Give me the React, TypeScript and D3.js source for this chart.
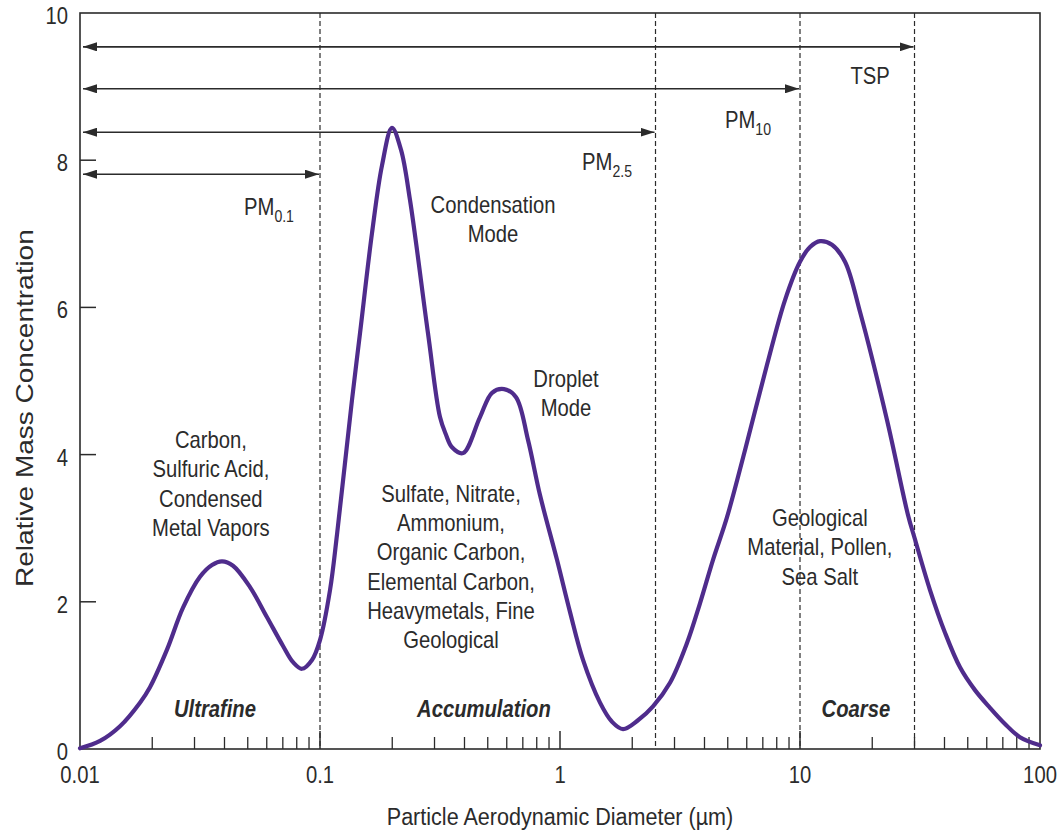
import React, { useEffect, useRef } from 'react';
import * as d3 from 'd3';

// particle diameter (µm) and relative mass concentration
const diameters = [
  0.01, 0.01212, 0.01468, 0.01778, 0.01957, 0.02304, 0.02687, 0.03162, 0.03548, 0.03906,
  0.04341, 0.05109, 0.06015, 0.07013, 0.0772, 0.08414, 0.09261, 0.1, 0.1101, 0.1177,
  0.1359, 0.1468, 0.1647, 0.1813, 0.1995, 0.2176, 0.2371, 0.2818, 0.3162, 0.335,
  0.3548, 0.3943, 0.4642, 0.521, 0.5845, 0.6558, 0.7356, 0.8254, 0.9716, 1.101,
  1.247, 1.468, 1.647, 1.83, 2.113, 2.441, 2.873, 3.382, 3.831, 4.341,
  4.965, 5.899, 7.287, 8.66, 10, 11.01, 12.12, 13.59, 15.4, 17.78,
  23.04, 28.18, 30, 34.81, 40.2, 46.42, 53.6, 61.9, 71.5, 82.5,
  100,
];
const concentrations = [
  0.01, 0.11, 0.31, 0.63, 0.84, 1.35, 1.92, 2.34, 2.5, 2.55,
  2.49, 2.2, 1.79, 1.4, 1.18, 1.09, 1.21, 1.48, 2.16, 2.91,
  4.74, 5.65, 7.01, 7.93, 8.44, 8.14, 7.46, 5.65, 4.51, 4.27,
  4.1, 4.02, 4.51, 4.84, 4.89, 4.78, 4.2, 3.45, 2.57, 1.86,
  1.21, 0.63, 0.37, 0.27, 0.39, 0.58, 0.9, 1.44, 1.98, 2.57,
  3.15, 4.06, 5.22, 6.1, 6.62, 6.82, 6.9, 6.85, 6.62, 5.94,
  4.47, 3.18, 2.87, 2.16, 1.58, 1.11, 0.8, 0.56, 0.34, 0.16,
  0.05,
];

// size fraction cut-offs (µm)
const cutNames = ['PM0.1', 'PM2.5', 'PM10', 'TSP'];
const cutSizes = [0.1, 2.5, 10, 30];
const cutArrowLevels = [7.81, 8.38, 8.97, 9.54];

const yTicks = [0, 2, 4, 6, 8, 10];
const xTickLabels = ['0.01', '0.1', '1', '10', '100'];

const W = 1061;
const H = 831;
const margin = { top: 13, right: 21, bottom: 82, left: 80 };
const FONT = '"Liberation Sans", Arial, Helvetica, sans-serif';
const INK = '#2b2b2b';
const CURVE = '#4f2c8c';
const SQ = 0.88; // the original figure's text is a bit narrow

const label = (
  parent: any,
  x: number,
  y: number,
  lines: string[],
  opts: { size: number; anchor?: string; bold?: boolean; italic?: boolean; lineH?: number },
) => {
  const t = parent.append('text')
    .attr('transform', `translate(${x},${y}) scale(${SQ},1)`)
    .attr('text-anchor', opts.anchor || 'middle')
    .attr('font-family', FONT)
    .attr('font-size', opts.size)
    .attr('fill', INK);
  if (opts.bold) t.attr('font-weight', 'bold');
  if (opts.italic) t.attr('font-style', 'italic');
  lines.forEach((l, i) => {
    t.append('tspan').attr('x', 0).attr('dy', i === 0 ? 0 : opts.lineH || 29.3).text(l);
  });
  return t;
};

const App: React.FC = () => {
  const svgRef = useRef<SVGSVGElement>(null);

  useEffect(() => {
    if (!svgRef.current) return;
    const svg = d3.select(svgRef.current);
    svg.selectAll('*').remove();

    const x = d3.scaleLog().domain([0.01, 100]).range([margin.left, W - margin.right]);
    const y = d3.scaleLinear().domain([0, 10]).range([H - margin.bottom, margin.top]);
    const x0 = margin.left, x1 = W - margin.right;
    const yb = H - margin.bottom, yt = margin.top;

    const defs = svg.append('defs');
    ['start', 'end'].forEach(k => {
      defs.append('marker')
        .attr('id', `arrow-${k}`)
        .attr('viewBox', '0 0 14 9')
        .attr('refX', 14).attr('refY', 4.5)
        .attr('markerWidth', 14).attr('markerHeight', 9)
        .attr('markerUnits', 'userSpaceOnUse')
        .attr('orient', k === 'start' ? 'auto-start-reverse' : 'auto')
        .append('path')
        .attr('d', 'M0,0 L14,4.5 L0,9 Z')
        .attr('fill', INK);
    });

    // frame
    svg.append('rect')
      .attr('x', x0).attr('y', yt)
      .attr('width', x1 - x0).attr('height', yb - yt)
      .attr('fill', 'none').attr('stroke', INK).attr('stroke-width', 1.6);

    // minor/major ticks on the log axis (pointing inward)
    const minor: number[] = [];
    for (let e = -2; e < 2; e++) {
      for (let m = 2; m <= 9; m++) minor.push(m * Math.pow(10, e));
    }
    svg.append('g').selectAll('line').data(minor).join('line')
      .attr('x1', d => x(d)).attr('x2', d => x(d))
      .attr('y1', yb).attr('y2', yb - 12)
      .attr('stroke', INK).attr('stroke-width', 1.3);
    svg.append('g').selectAll('line').data([0.1, 1, 10]).join('line')
      .attr('x1', d => x(d)).attr('x2', d => x(d))
      .attr('y1', yb).attr('y2', yb - 18)
      .attr('stroke', INK).attr('stroke-width', 1.5);

    const axisG = svg.append('g');
    xTickLabels.forEach(d => label(axisG, x(+d), yb + 34, [d], { size: 23 }));

    // y ticks
    svg.append('g').selectAll('line').data(yTicks.slice(1, -1)).join('line')
      .attr('x1', x0).attr('x2', x0 + 16)
      .attr('y1', d => y(d)).attr('y2', d => y(d))
      .attr('stroke', INK).attr('stroke-width', 1.5);
    yTicks.forEach(d => label(axisG, x0 - 12, y(d) + 11, [String(d)], { size: 23, anchor: 'end' }));

    // axis titles
    label(axisG, (x0 + x1) / 2, 825, ['Particle Aerodynamic Diameter (µm)'], { size: 24.5 });
    svg.append('text')
      .attr('transform', `translate(33,587) scale(${SQ},1) rotate(-90)`)
      .attr('text-anchor', 'start')
      .attr('font-family', FONT).attr('font-size', 28).attr('fill', INK)
      .text('Relative Mass Concentration');

    // dashed cut-off lines
    svg.append('g').selectAll('line').data(cutSizes).join('line')
      .attr('x1', d => x(d)).attr('x2', d => x(d))
      .attr('y1', yt).attr('y2', yb)
      .attr('stroke', INK).attr('stroke-width', 1.2)
      .attr('stroke-dasharray', '5,3');

    // size range arrows
    svg.append('g').selectAll('line').data(cutSizes).join('line')
      .attr('x1', x0 + 3).attr('x2', d => x(d) - 1)
      .attr('y1', (d, i) => y(cutArrowLevels[i]))
      .attr('y2', (d, i) => y(cutArrowLevels[i]))
      .attr('stroke', INK).attr('stroke-width', 1.6)
      .attr('marker-start', 'url(#arrow-start)')
      .attr('marker-end', 'url(#arrow-end)');

    // size range labels
    const cutLabelPos = [
      { x: 0.0613, y: 7.26 }, { x: 1.57, y: 7.87 }, { x: 6.07, y: 8.44 }, { x: 19.6, y: 9.04 },
    ];
    const cutG = svg.append('g');
    cutNames.forEach((name, i) => {
      const t = label(cutG, x(cutLabelPos[i].x), y(cutLabelPos[i].y), [], { size: 23 });
      if (name.startsWith('PM')) {
        t.append('tspan').text('PM');
        t.append('tspan').attr('dy', 7).attr('font-size', 16).text(name.slice(2));
      } else {
        t.text(name);
      }
    });

    // curve
    const pts = diameters.map((d, i) => [d, concentrations[i]] as [number, number]);
    const line = d3.line<[number, number]>()
      .x(d => x(d[0])).y(d => y(d[1]))
      .curve(d3.curveCatmullRom.alpha(0.5));
    svg.append('path')
      .attr('d', line(pts))
      .attr('fill', 'none').attr('stroke', CURVE)
      .attr('stroke-width', 4.2).attr('stroke-linejoin', 'round').attr('stroke-linecap', 'round');

    // annotations
    const notes = [
      { x: 0.0351, y: 4.09, lines: ['Carbon,', 'Sulfuric Acid,', 'Condensed', 'Metal Vapors'] },
      { x: 0.526, y: 7.28, lines: ['Condensation', 'Mode'] },
      { x: 1.059, y: 4.92, lines: ['Droplet', 'Mode'] },
      { x: 0.3515, y: 3.36, lines: ['Sulfate, Nitrate,', 'Ammonium,', 'Organic Carbon,', 'Elemental Carbon,', 'Heavymetals, Fine', 'Geological'] },
      { x: 12.1, y: 3.03, lines: ['Geological', 'Material, Pollen,', 'Sea Salt'] },
    ];
    const noteG = svg.append('g');
    notes.forEach(n => label(noteG, x(n.x), y(n.y), n.lines, { size: 23 }));

    const modes = [
      { x: 0.0365, label: 'Ultrafine' },
      { x: 0.482, label: 'Accumulation' },
      { x: 17.1, label: 'Coarse' },
    ];
    modes.forEach(m => label(noteG, x(m.x), y(0.43), [m.label], { size: 23, bold: true, italic: true }));
  }, []);

  return (
    <svg
      ref={svgRef}
      width={W}
      height={H}
      style={{ position: 'absolute', left: 0, top: 0, background: '#fff' }}
    />
  );
};

export default App;
